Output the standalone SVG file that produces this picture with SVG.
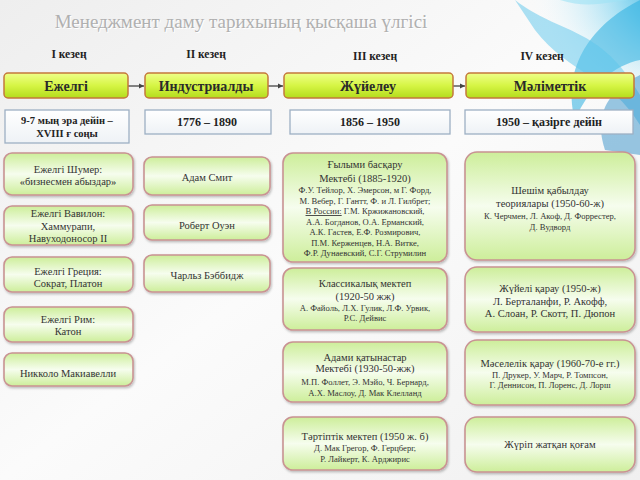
<svg xmlns="http://www.w3.org/2000/svg" width="640" height="480" viewBox="0 0 640 480">
<defs>
<linearGradient id="bg" x1="0" y1="0" x2="1" y2="1"><stop offset="0" stop-color="#eeeeee"/><stop offset="0.5" stop-color="#fbfbfb"/><stop offset="1" stop-color="#f0f0f0"/></linearGradient>
<radialGradient id="swirl" cx="0.8" cy="0.2" r="0.55"><stop offset="0" stop-color="#1e9fd6"/><stop offset="0.4" stop-color="#7fd3ef" stop-opacity="0.85"/><stop offset="1" stop-color="#ffffff" stop-opacity="0"/></radialGradient>
<linearGradient id="top" x1="0" y1="0" x2="0" y2="1"><stop offset="0" stop-color="#efff8a"/><stop offset="0.5" stop-color="#d6f545"/><stop offset="1" stop-color="#b4dc1c"/></linearGradient>
<linearGradient id="card" x1="0" y1="0" x2="0" y2="1"><stop offset="0" stop-color="#cdee9a"/><stop offset="0.5" stop-color="#f6fdee"/><stop offset="1" stop-color="#cdee9a"/></linearGradient>
<linearGradient id="date" x1="0" y1="0" x2="0" y2="1"><stop offset="0" stop-color="#ffffff"/><stop offset="1" stop-color="#eef2f6"/></linearGradient>
<marker id="arr" markerWidth="6" markerHeight="6" refX="5" refY="3" orient="auto" markerUnits="userSpaceOnUse"><path d="M0,0.5 L5,3 L0,5.5 z" fill="#444"/></marker>
<filter id="sh" x="-10%" y="-10%" width="120%" height="130%"><feDropShadow dx="1" dy="1.5" stdDeviation="1.2" flood-color="#000" flood-opacity="0.25"/></filter>
</defs>
<style>
text{font-family:"Liberation Serif","DejaVu Serif","Noto Serif","Times New Roman",serif;text-anchor:middle;fill:#333}
.hd{font-size:11.5px;font-weight:bold;fill:#222}
.tb{fill:url(#top);stroke:#c4783c;stroke-width:1.5}
.tt{font-size:14px;font-weight:bold;fill:#2a2a2a}
.db{fill:url(#date);stroke:#9db0c4;stroke-width:1.3}
.dt{font-size:12px;font-weight:bold;fill:#222}
.dt2{font-size:10.5px;font-weight:bold;fill:#222}
.cb{fill:url(#card);stroke:#c99393;stroke-width:1.6;filter:url(#sh)}
.c1{font-size:10.5px}
.c2{font-size:8.6px}
.cn{font-size:10.5px}
.con{stroke:#444;stroke-width:1.3;fill:none;marker-end:url(#arr)}
</style>
<rect width="640" height="480" fill="url(#bg)"/>
<g id="decor">
<ellipse cx="600" cy="60" rx="150" ry="120" fill="url(#swirl)"/>
<path d="M640,0 C600,20 560,60 575,120 C590,85 615,65 640,60 z" fill="#2aaee0" opacity="0.55"/>
<path d="M515,0 C560,35 600,25 640,95 L640,125 C610,75 570,75 535,30 z" fill="#5cc6ec" opacity="0.5"/>
<path d="M605,150 C590,105 620,85 640,75 L640,155 z" fill="#1f86c4" opacity="0.45"/>
<path d="M560,0 C590,10 615,0 630,0 z" fill="#9fe2f5" opacity="0.6"/>
</g>
<g id="title">
<text x="241" y="28" style="font-size:19px;fill:#ffffff" dx="1" dy="1">Менеджмент  даму  тарихының қысқаша үлгісі</text>
<text x="241" y="28" style="font-size:19px;fill:#b0b0b0">Менеджмент  даму  тарихының қысқаша үлгісі</text>
</g>
<g id="headers">
<text class="hd" x="69" y="58">І кезең</text>
<text class="hd" x="206" y="58">ІІ кезең</text>
<text class="hd" x="375" y="60">ІІІ кезең</text>
<text class="hd" x="542" y="60">ІV кезең</text>
</g>
<g id="connectors">
<line class="con" x1="128" y1="86" x2="144" y2="86"/>
<line class="con" x1="268" y1="86" x2="283" y2="86"/>
<line class="con" x1="453" y1="86" x2="465" y2="86"/>
</g>
<g id="p1"><rect class="tb" x="4" y="73" width="124" height="25" rx="4"/><text class="tt" x="66" y="90.5">Ежелгі</text></g>
<g id="p2"><rect class="tb" x="145" y="73" width="123" height="25" rx="4"/><text class="tt" x="206" y="90.5">Индустриалды</text></g>
<g id="p3"><rect class="tb" x="284" y="73" width="169" height="25" rx="4"/><text class="tt" x="368" y="90.5">Жүйелеу</text></g>
<g id="p4"><rect class="tb" x="466" y="73" width="168" height="25" rx="4"/><text class="tt" x="550" y="90.5">Мәліметтік</text></g>
<g id="d1"><rect class="db" x="5" y="110" width="124" height="33"/><text class="dt2" x="67" y="124">9-7 мың  эра дейін –</text><text class="dt2" x="67" y="137">XVIII ғ соңы</text></g>
<g id="d2"><rect class="db" x="145" y="110" width="126" height="24"/><text class="dt" x="207" y="126">1776 – 1890</text></g>
<g id="d3"><rect class="db" x="290" y="110" width="160" height="24"/><text class="dt" x="370" y="126">1856 – 1950</text></g>
<g id="d4"><rect class="db" x="465" y="110" width="168" height="24"/><text class="dt" x="549" y="126">1950 – қазірге дейін</text></g>
<g id="a1"><rect class="cb" x="4" y="153" width="129" height="42" rx="8"/><text class="cn" x="68" y="173">Ежелгі Шумер:</text><text class="cn" x="68" y="185">«бизнесмен абыздар»</text></g>
<g id="a2"><rect class="cb" x="4" y="206" width="129" height="39" rx="8"/><text class="cn" x="68" y="217">Ежелгі Вавилон:</text><text class="cn" x="68" y="229.5">Хаммурапи,</text><text class="cn" x="68" y="242">Навуходоносор II</text></g>
<g id="a3"><rect class="cb" x="4" y="257" width="129" height="35" rx="8"/><text class="cn" x="68" y="275">Ежелгі  Греция:</text><text class="cn" x="68" y="286.5">Сократ, Платон</text></g>
<g id="a4"><rect class="cb" x="4" y="307" width="129" height="35" rx="8"/><text class="cn" x="68" y="322.5">Ежелгі  Рим:</text><text class="cn" x="68" y="335">Катон</text></g>
<g id="a5"><rect class="cb" x="4" y="353" width="129" height="33" rx="8"/><text class="cn" x="68" y="377">Никколо Макиавелли</text></g>
<g id="b1"><rect class="cb" x="144" y="157" width="126" height="38" rx="8"/><text class="cn" x="207" y="181">Адам Смит</text></g>
<g id="b2"><rect class="cb" x="144" y="205" width="126" height="35" rx="8"/><text class="cn" x="207" y="229">Роберт Оуэн</text></g>
<g id="b3"><rect class="cb" x="144" y="255" width="126" height="37" rx="8"/><text class="cn" x="207" y="279">Чарльз Бэббидж</text></g>
<g id="c1"><rect class="cb" x="283" y="153" width="164" height="109" rx="10"/>
<text class="c1" x="365" y="168">Ғылыми  басқару</text>
<text class="c1" x="365" y="181.5">Мектебі (1885-1920)</text>
<text class="c2" x="365" y="193">Ф.У. Тейлор, Х. Эмерсон,  м Г. Форд,</text>
<text class="c2" x="365" y="203.5">М. Вебер, Г. Гантт, Ф. и Л. Гилбрет;</text>
<text class="c2" x="365" y="214"><tspan text-decoration="underline">В России:</tspan> Г.М. Кржижановский,</text>
<text class="c2" x="365" y="224.5">А.А. Богданов, О.А. Ерманский,</text>
<text class="c2" x="365" y="235">А.К. Гастев, Е.Ф. Розмирович,</text>
<text class="c2" x="365" y="245.5">П.М. Керженцев, Н.А. Витке,</text>
<text class="c2" x="365" y="256">Ф.Р. Дунаевский, С.Г. Струмилин</text></g>
<g id="c2"><rect class="cb" x="283" y="268" width="164" height="62" rx="10"/>
<text class="c1" x="365" y="286.5">Классикалық мектеп</text>
<text class="c1" x="365" y="300">(1920-50 жж)</text>
<text class="c2" x="365" y="311">А. Файоль, Л.Х. Гулик, Л.Ф. Урвик,</text>
<text class="c2" x="365" y="321">Р.С. Дейвис</text></g>
<g id="c3"><rect class="cb" x="283" y="342" width="164" height="60" rx="10"/>
<text class="c1" x="365" y="360.5">Адами қатынастар</text>
<text class="c1" x="365" y="372">Мектебі (1930-50-жж)</text>
<text class="c2" x="365" y="385">М.П. Фоллет, Э. Мэйо, Ч. Бернард,</text>
<text class="c2" x="365" y="396">А.Х. Маслоу, Д. Мак Клелланд</text></g>
<g id="c4"><rect class="cb" x="283" y="417" width="164" height="53" rx="10"/>
<text class="c1" x="365" y="440">Тәртіптік мектеп (1950 ж. б)</text>
<text class="c2" x="365" y="451">Д. Мак Грегор, Ф. Герцберг,</text>
<text class="c2" x="365" y="461.5">Р. Лайкерт, К. Арджирис</text></g>
<g id="e1"><rect class="cb" x="465" y="152" width="170" height="108" rx="12"/>
<text class="c1" x="550" y="193.5">Шешім қабылдау</text>
<text class="c1" x="550" y="206.5">теориялары (1950-60-ж)</text>
<text class="c2" x="550" y="219">К. Черчмен, Л. Акоф, Д. Форрестер,</text>
<text class="c2" x="550" y="229.5">Д. Вудворд</text></g>
<g id="e2"><rect class="cb" x="465" y="267" width="170" height="65" rx="12"/>
<text class="c1" x="550" y="291.5">Жүйелі қарау (1950-ж)</text>
<text class="c1" x="550" y="304.5">Л. Берталанфи, Р. Акофф,</text>
<text class="c1" x="550" y="316.5">А. Слоан, Р. Скотт, П. Дюпон</text></g>
<g id="e3"><rect class="cb" x="465" y="340" width="170" height="65" rx="12"/>
<text class="c1" x="550" y="366.5">Мәселелік қарау (1960-70-е гг.)</text>
<text class="c2" x="550" y="378">П. Друкер, У. Марч, Р. Томпсон,</text>
<text class="c2" x="550" y="388">Г. Деннисон, П. Лоренс, Д. Лорш</text></g>
<g id="e4"><rect class="cb" x="465" y="417" width="170" height="55" rx="12"/>
<text class="c1" x="550" y="447.5">Жүріп жатқан  қоғам</text></g>
</svg>
